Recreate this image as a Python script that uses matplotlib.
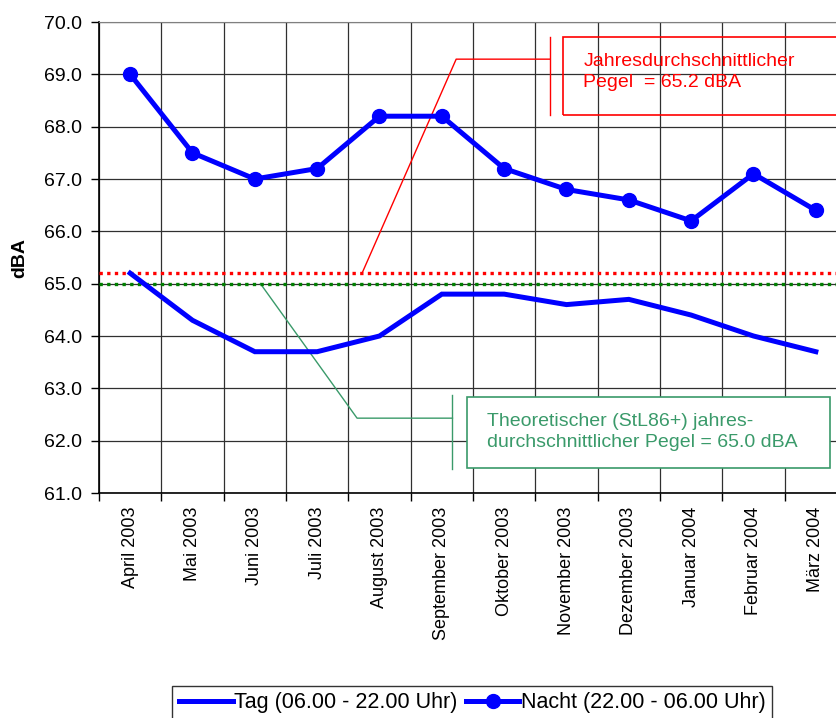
import numpy as np
import matplotlib.pyplot as plt
from matplotlib.patches import Rectangle
from matplotlib.lines import Line2D

plt.rcParams['font.family'] = ['Liberation Sans', 'DejaVu Sans']

months = ['April 2003', 'Mai 2003', 'Juni 2003', 'Juli 2003', 'August 2003',
          'September 2003', 'Oktober 2003', 'November 2003', 'Dezember 2003',
          'Januar 2004', 'Februar 2004', 'März 2004']
tag = [65.2, 64.3, 63.7, 63.7, 64.0, 64.8, 64.8, 64.6, 64.7, 64.4, 64.0, 63.7]
nacht = [69.0, 67.5, 67.0, 67.2, 68.2, 68.2, 67.2, 66.8, 66.6, 66.2, 67.1, 66.4]
mittel = 65.2      # Jahresdurchschnitt
theorie = 65.0     # StL86+ Theorie

blue = '#0000ff'
red = '#ff0000'
green = '#3a9a6a'

fig = plt.figure(figsize=(8.36, 7.18), dpi=100)
# axes run a bit past the right edge of the figure
ax = fig.add_axes([99/836, 1-493/718, 748/836, 471/718])

x = np.arange(len(months))
ax.plot(x, tag, color=blue, lw=3.6, solid_joinstyle='miter', label='Tag (06.00 - 22.00 Uhr)', zorder=5)
ax.plot(x, nacht, color=blue, lw=3.6, marker='o', ms=10, label='Nacht (22.00 - 06.00 Uhr)', zorder=5)

ax.axhline(mittel, color=red, lw=2.4, ls=(0, (1, 1.3)), zorder=4)
ax.axhline(theorie, color='#008000', lw=2.4, ls=(0, (1, 1.3)), zorder=4)

ax.set_xlim(-0.5, 11.5)
ax.set_ylim(61, 70)
ax.set_yticks(np.arange(61, 70.5, 1))
ax.set_yticklabels([f'{v:.1f}' for v in np.arange(61, 70.5, 1)], fontsize=14)
ax.set_xticks(x)
ax.set_xticklabels(months, rotation=90, fontsize=13)
ax.set_xticks(np.arange(-0.5, 12, 1), minor=True)
ax.tick_params(axis='x', which='major', length=0, pad=10)
ax.tick_params(axis='x', which='minor', length=6, width=1)
ax.tick_params(axis='y', length=6, width=1, pad=6)
ax.grid(True, which='minor', axis='x', color='#303030', lw=0.9)
ax.grid(True, which='major', axis='y', color='#303030', lw=0.9)
ax.set_axisbelow(True)
for s in ['top', 'right']:
    ax.spines[s].set_color('#808080')
ax.spines['left'].set_linewidth(1.2)
ax.spines['bottom'].set_linewidth(1.2)

ax.set_ylabel('dBA', fontsize=14, fontweight='bold')
ax.yaxis.set_label_coords(-71/748, 0.5)

# Hinweis Jahresdurchschnitt
ax.add_line(Line2D([3.72, 5.23, 6.73], [mittel, 69.29, 69.29], color=red, lw=1, clip_on=False))
ax.add_line(Line2D([6.73, 6.73], [69.71, 68.22], color=red, lw=1, clip_on=False))
ax.add_patch(Rectangle((6.95, 68.22), 6, 1.49, fill=False, ec=red, lw=1.2, clip_on=False, zorder=6))
ax.text(7.27, 69.05, 'Jahresdurchschnittlicher\nPegel  = 65.2 dBA', color=red,
        fontsize=14, va='center', ha='left', linespacing=1.3, zorder=7)

# Hinweis StL86+
ax.add_line(Line2D([2.09, 3.64, 5.17], [theorie, 62.43, 62.43], color=green, lw=1, clip_on=False))
ax.add_line(Line2D([5.17, 5.17], [62.87, 61.46], color=green, lw=1, clip_on=False))
ax.add_patch(Rectangle((5.41, 61.48), 5.81, 1.35, fc='white', ec=green, lw=1.2, zorder=6))
ax.text(5.73, 62.16, 'Theoretischer (StL86+) jahres-\ndurchschnittlicher Pegel = 65.0 dBA',
        color=green, fontsize=14, va='center', ha='left', linespacing=1.3, zorder=7)

leg = fig.legend(loc='upper center', bbox_to_anchor=(472/836, 1-686/718), ncol=2,
                 fontsize=15.5, frameon=True, fancybox=False, edgecolor='black',
                 handlelength=2.5, handletextpad=0.05, columnspacing=0.4,
                 borderpad=0.3, borderaxespad=0)
leg.get_frame().set_linewidth(1)

plt.savefig('out.png', dpi=100)
